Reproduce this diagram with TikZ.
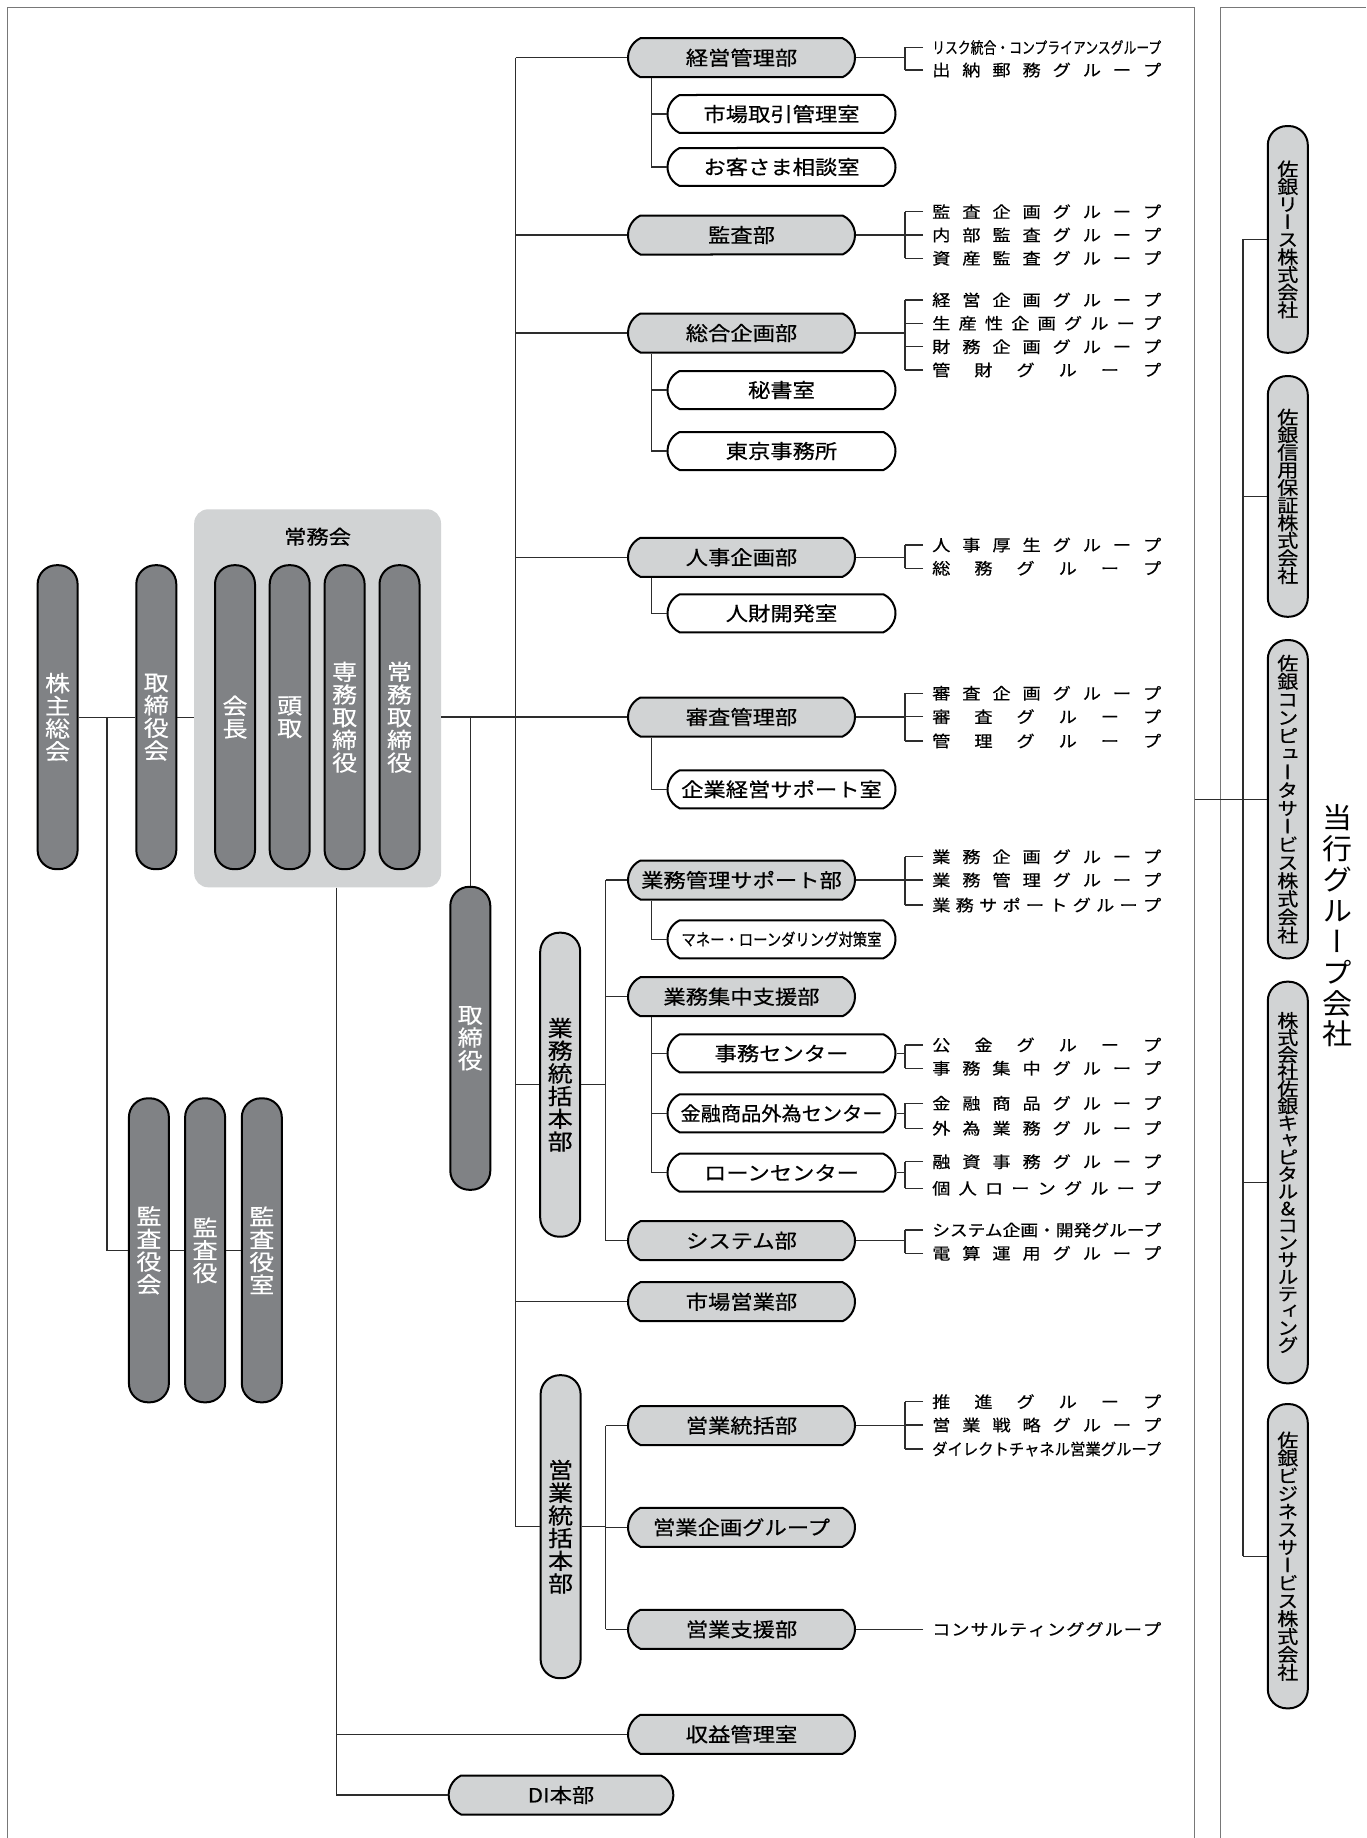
\documentclass[tikz,border=0pt]{standalone}
\usepackage{fontspec}
\usepackage{graphicx}
\usetikzlibrary{shapes.misc}
\setmainfont{Noto Sans CJK JP}[FakeBold=0.5]
\newfontfamily\vfont{Noto Sans CJK JP}[RawFeature=+vert,FakeBold=0.5]
\newfontfamily\vlight{Noto Sans CJK JP}[RawFeature=+vert]
\definecolor{lg}{RGB}{209,211,212}
\definecolor{dg}{RGB}{128,130,133}
\definecolor{ln}{RGB}{45,45,45}
\definecolor{fr}{RGB}{120,120,120}
\newlength\gw
\def\spr#1#2{#1\ifx\relax#2\else\hfill\expandafter\spr\expandafter#2\fi}
\newcommand\grp[1]{\settowidth\gw{#1}\ifdim\gw>229pt\relax\resizebox{229pt}{\height}{#1}\else\makebox[229pt][s]{\spr#1\relax}\fi}
\newcommand\fitw[2]{\settowidth\gw{#2}\ifdim\gw>#1\relax\resizebox{#1}{\height}{#2}\else#2\fi}
\newcommand\sq[1]{\scalebox{1}[0.88]{#1}}
\newcommand\vt[3]{\sq{\parbox{40pt}{\centering\vfont\fontsize{#1}{#2}\selectfont #3}}}
\newcommand\groups[2]{%
  \foreach \yy/\gtext [count=\i, remember=\i as \li (initially 0)] in {#2} {
    \node[gtxt] (#1g\i) at (932,\yy) {\sq{\expandafter\grp\expandafter{\gtext}}};
    \draw[conn] ([xshift=-9pt]#1g\i.west) -- ([xshift=-27pt]#1g\i.west) coordinate (#1t\i);
    \ifnum\i>1 \draw[conn] (#1t\li) -- (#1t\i);\fi
  }
  \draw[conn] (#1.east) -- (#1.east -| #1t1);
}
\begin{document}
\begin{tikzpicture}[x=1pt,y=-1pt,
  conn/.style={draw=ln, line width=1.1pt},
  frm/.style={draw=fr, line width=1.2pt},
  gbox/.style={rounded rectangle, rounded rectangle arc length=130, draw=black, line width=2pt, fill=lg, minimum width=227pt, minimum height=39pt, inner sep=0pt, font=\fontsize{22.3}{24}\selectfont},
  wbox/.style={gbox, fill=white, minimum width=228pt, minimum height=38pt},
  dpill/.style={rectangle, rounded corners=19pt, draw=black, line width=2pt, fill=dg, text=white, minimum width=39pt, inner sep=0pt},
  lpill/.style={dpill, fill=lg, text=black},
  gtxt/.style={anchor=west, inner sep=0pt, font=\fontsize{18.2}{19}\selectfont}]
\useasboundingbox (0,0) rectangle (1366,1838);
\fill[white] (0,0) rectangle (1366,1838);
% frames
\draw[frm] (7.6,1838) -- (7.6,7.5) -- (1194.5,7.5) -- (1194.5,1838);
\draw[frm] (1220.4,1838) -- (1220.4,7.5) -- (1366,7.5);
% helper coordinates
\coordinate (tr) at (515.6,0);
\coordinate (sx) at (651.8,0);
\coordinate (gx) at (605.8,0);
\coordinate (lx) at (107,0);
\coordinate (bx) at (336.6,0);
\coordinate (rx) at (1243,0);
\coordinate (fx) at (1194.5,0);
% board group
\node[fill=lg, rounded corners=14pt, minimum width=246.8pt, minimum height=378pt, inner sep=0pt] (bg) at (317.6,698.3) {};
\node[inner sep=0pt, font=\fontsize{22.3}{24}\selectfont] (jmk) at (317.6,536.7) {\sq{常務会}};
\node[dpill, minimum height=304pt] (kabu) at (57.6,717.2) {\vt{25}{25.8}{株\\主\\総\\会}};
\node[dpill, minimum height=304pt] (tori) at (156.3,717.2) {\vt{25}{25.8}{取\\締\\役\\会}};
\node[dpill, minimum height=304pt] (kaicho) at (235,717.2) {\vt{25}{25.8}{会\\長}};
\node[dpill, minimum height=304pt] (todori) at (289.7,717.2) {\vt{25}{25.8}{頭\\取}};
\node[dpill, minimum height=304pt] (senmu) at (344.6,717.2) {\vt{25}{25.8}{専\\務\\取\\締\\役}};
\node[dpill, minimum height=304pt] (jomu) at (399.5,717.2) {\vt{25}{25.8}{常\\務\\取\\締\\役}};
\node[dpill, minimum height=303pt] (torishima) at (470.3,1038.3) {\vt{25}{25.8}{取\\締\\役}};
\node[dpill, minimum height=304pt] (kyk) at (148.9,1250.3) {\vt{25}{25.8}{監\\査\\役\\会}};
\node[dpill, minimum height=304pt] (ky) at (205.1,1250.3) {\vt{25}{25.8}{監\\査\\役}};
\node[dpill, minimum height=304pt] (kys) at (261.8,1250.3) {\vt{25}{25.8}{監\\査\\役\\室}};
\node[lpill, minimum height=304pt] (gyomuHQ) at (560.2,1084.7) {\vt{25}{25.8}{業\\務\\統\\括\\本\\部}};
\node[lpill, minimum height=303pt] (eigyoHQ) at (560.6,1526.7) {\vt{25}{25.8}{営\\業\\統\\括\\本\\部}};
% departments
\node[gbox] (keiei) at (741.5,57.7) {\sq{経営管理部}};
\node[gbox] (kansa) at (741.5,235) {\sq{監査部}};
\node[gbox] (sogo) at (741.5,333) {\sq{総合企画部}};
\node[gbox] (jinji) at (741.5,557.3) {\sq{人事企画部}};
\node[gbox] (shinsa) at (741.5,717) {\sq{審査管理部}};
\node[gbox] (gkanri) at (741.5,880) {\sq{業務管理サポート部}};
\node[gbox] (gshuchu) at (741.5,996.7) {\sq{業務集中支援部}};
\node[gbox] (system) at (741.5,1240.7) {\sq{システム部}};
\node[gbox] (shijo) at (741.5,1301.7) {\sq{市場営業部}};
\node[gbox] (etokatsu) at (741.5,1425.5) {\sq{営業統括部}};
\node[gbox] (ekikaku) at (741.5,1527.3) {\sq{営業企画グループ}};
\node[gbox] (eshien) at (741.5,1629.3) {\sq{営業支援部}};
\node[gbox] (shueki) at (741.5,1734.3) {\sq{収益管理室}};
\node[gbox, minimum width=224.7pt] (di) at (561,1795) {\sq{DI本部}};
% offices
\node[wbox] (w1) at (781.5,114) {\sq{市場取引管理室}};
\node[wbox] (w2) at (781.5,167) {\sq{お客さま相談室}};
\node[wbox] (w3) at (781.5,390) {\sq{秘書室}};
\node[wbox] (w4) at (781.5,451) {\sq{東京事務所}};
\node[wbox] (w5) at (781.5,613.3) {\sq{人財開発室}};
\node[wbox] (w6) at (781.5,789.3) {\sq{企業経営サポート室}};
\node[wbox] (w7) at (781.5,939.3) {\sq{\fontsize{19}{20}\selectfont\fitw{200pt}{マネー・ローンダリング対策室}}};
\node[wbox] (w8) at (781.5,1053.3) {\sq{事務センター}};
\node[wbox] (w9) at (781.5,1113.3) {\sq{\fitw{202pt}{金融商品外為センター}}};
\node[wbox] (w10) at (781.5,1172.7) {\sq{ローンセンター}};
% group companies
\node[lpill, minimum height=226.7pt] (r1) at (1287.8,239.4) {\vt{21}{20}{佐\\銀\\リ\\ー\\ス\\株\\式\\会\\社}};
\node[lpill, minimum height=240.7pt] (r2) at (1287.8,496.4) {\vt{21}{20}{佐\\銀\\信\\用\\保\\証\\株\\式\\会\\社}};
\node[lpill, minimum height=318.3pt] (r3) at (1287.8,799.2) {\vt{21}{20.6}{佐\\銀\\コ\\ン\\ピ\\ュ\\ー\\タ\\サ\\ー\\ビ\\ス\\株\\式\\会\\社}};
\node[lpill, minimum height=401.6pt] (r4) at (1287.8,1182.5) {\vt{21}{19.4}{株\\式\\会\\社\\佐\\銀\\キ\\ャ\\ピ\\タ\\ル\\\&\\コ\\ン\\サ\\ル\\テ\\ィ\\ン\\グ}};
\node[lpill, minimum height=304.3pt] (r5) at (1287.8,1556.2) {\vt{21}{20.3}{佐\\銀\\ビ\\ジ\\ネ\\ス\\サ\\ー\\ビ\\ス\\株\\式\\会\\社}};
\node[inner sep=0pt] (tg) at (1337,926) {\scalebox{1}[0.95]{\parbox{40pt}{\centering\vlight\fontsize{30}{32.5}\selectfont 当\\行\\グ\\ル\\ー\\プ\\会\\社}}};
% connectors: top management
\draw[conn] (kabu.east) -- (tori.west);
\draw[conn] (tori.east) -- (tori.east -| bg.west);
\draw[conn] (kabu.east -| lx) -- (kyk.west -| lx) -- (kyk.west);
\draw[conn] (kyk.east) -- (ky.west);
\draw[conn] (ky.east) -- (kys.west);
\draw[conn] (bg.east |- shinsa.west) -- (shinsa.west);
\draw[conn] (torishima.north |- shinsa.west) -- (torishima.north);
\draw[conn] (bg.south -| bx) -- (di.west -| bx) -- (di.west);
\draw[conn] (shueki.west -| bx) -- (shueki.west);
% trunk
\draw[conn] (keiei.west -| tr) -- (eigyoHQ.west -| tr);
\foreach \n in {keiei,kansa,sogo,jinji,gyomuHQ,shijo,eigyoHQ} {\draw[conn] (\n.west -| tr) -- (\n.west);}
% business HQ
\draw[conn] (gyomuHQ.east) -- (gyomuHQ.east -| gx);
\draw[conn] (gkanri.west -| gx) -- (system.west -| gx);
\foreach \n in {gkanri,gshuchu,system} {\draw[conn] (\n.west -| gx) -- (\n.west);}
\draw[conn] (eigyoHQ.east) -- (eigyoHQ.east -| gx);
\draw[conn] (etokatsu.west -| gx) -- (eshien.west -| gx);
\foreach \n in {etokatsu,ekikaku,eshien} {\draw[conn] (\n.west -| gx) -- (\n.west);}
% offices
\draw[conn] (keiei.south -| sx) -- (w2.west -| sx) -- (w2.west);
\draw[conn] (w1.west -| sx) -- (w1.west);
\draw[conn] (sogo.south -| sx) -- (w4.west -| sx) -- (w4.west);
\draw[conn] (w3.west -| sx) -- (w3.west);
\draw[conn] (jinji.south -| sx) -- (w5.west -| sx) -- (w5.west);
\draw[conn] (shinsa.south -| sx) -- (w6.west -| sx) -- (w6.west);
\draw[conn] (gkanri.south -| sx) -- (w7.west -| sx) -- (w7.west);
\draw[conn] (gshuchu.south -| sx) -- (w10.west -| sx) -- (w10.west);
\draw[conn] (w8.west -| sx) -- (w8.west);
\draw[conn] (w9.west -| sx) -- (w9.west);
% group companies
\draw[conn] (r1.west -| rx) -- (r5.west -| rx);
\foreach \n in {r1,r2,r4,r5} {\draw[conn] (\n.west -| rx) -- (\n.west);}
\draw[conn] (r3.west -| fx) -- (r3.west);
% groups
\groups{keiei}{47.5/リスク統合・コンプライアンスグループ,70/出納郵務グループ}
\groups{kansa}{211.7/監査企画グループ,235/内部監査グループ,258.3/資産監査グループ}
\groups{sogo}{300/経営企画グループ,323.3/生産性企画グループ,346.7/財務企画グループ,370/管財グループ}
\groups{jinji}{545/人事厚生グループ,568.3/総務グループ}
\groups{shinsa}{693.3/審査企画グループ,716.7/審査グループ,741/管理グループ}
\groups{gkanri}{856.7/業務企画グループ,880/業務管理グループ,905/業務サポートグループ}
\groups{w8}{1045/公金グループ,1068.3/事務集中グループ}
\groups{w9}{1103.3/金融商品グループ,1128.3/外為業務グループ}
\groups{w10}{1161.7/融資事務グループ,1188.3/個人ローングループ}
\groups{system}{1230/システム企画・開発グループ,1253.3/電算運用グループ}
\groups{etokatsu}{1401.7/推進グループ,1425/営業戦略グループ,1449/ダイレクトチャネル営業グループ}
\groups{eshien}{1629.3/コンサルティンググループ}
\end{tikzpicture}
\end{document}
